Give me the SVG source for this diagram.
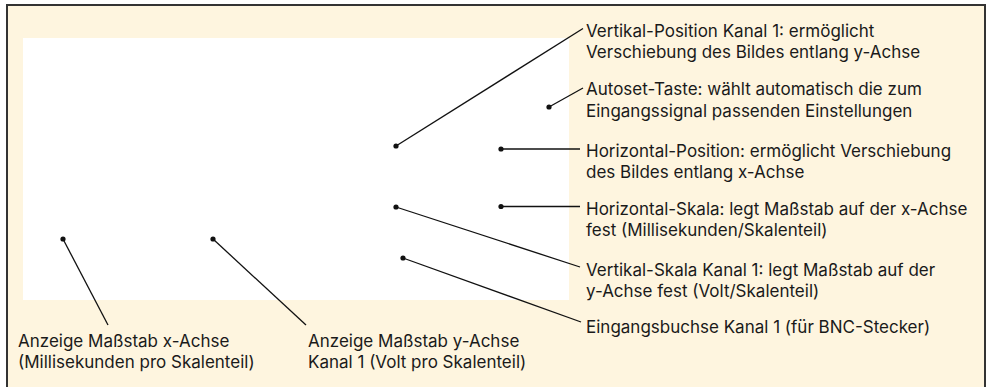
<svg xmlns="http://www.w3.org/2000/svg" width="990" height="387" viewBox="0 0 990 387">
<style>
.t{font-family:Inter,"Noto Sans","Liberation Sans",sans-serif;font-size:17px;fill:#1a1a1a}
.ln{stroke:#111;stroke-width:1.3;fill:none}
.dot{fill:#111}
</style>
<rect x="0" y="0" width="990" height="387" fill="#ffffff"/>
<rect id="frame" x="7" y="5" width="978" height="400" fill="#fef5df" stroke="#333" stroke-width="2"/>
<rect id="picture" x="23" y="38" width="546" height="262" fill="#ffffff"/>
<g id="connectors">
<line class="ln" x1="396" y1="146" x2="583" y2="28.5"/>
<line class="ln" x1="549" y1="107" x2="583" y2="88"/>
<line class="ln" x1="501" y1="149" x2="580" y2="149"/>
<line class="ln" x1="501" y1="206.5" x2="580" y2="206.5"/>
<line class="ln" x1="396" y1="207" x2="580" y2="267"/>
<line class="ln" x1="403" y1="258" x2="581" y2="322"/>
<line class="ln" x1="63" y1="239" x2="108" y2="325"/>
<line class="ln" x1="213" y1="239" x2="306" y2="325"/>
<circle class="dot" cx="396" cy="146" r="2.6"/>
<circle class="dot" cx="549" cy="107" r="2.6"/>
<circle class="dot" cx="501" cy="149" r="2.6"/>
<circle class="dot" cx="501" cy="206.5" r="2.6"/>
<circle class="dot" cx="396" cy="207" r="2.6"/>
<circle class="dot" cx="403" cy="258" r="2.6"/>
<circle class="dot" cx="63" cy="239" r="2.6"/>
<circle class="dot" cx="213" cy="239" r="2.6"/>
</g>
<g id="label-vpos"><text class="t" x="586" y="36.5">Vertikal-Position Kanal 1: ermöglicht</text><text class="t" x="586" y="57.5">Verschiebung des Bildes entlang y-Achse</text></g>
<g id="label-autoset"><text class="t" x="586" y="95">Autoset-Taste: wählt automatisch die zum</text><text class="t" x="586" y="116.5">Eingangssignal passenden Einstellungen</text></g>
<g id="label-hpos"><text class="t" x="586" y="156.5">Horizontal-Position: ermöglicht Verschiebung</text><text class="t" x="586" y="177.5">des Bildes entlang x-Achse</text></g>
<g id="label-hskala"><text class="t" x="586" y="215">Horizontal-Skala: legt Maßstab auf der x-Achse</text><text class="t" x="586" y="236">fest (Millisekunden/Skalenteil)</text></g>
<g id="label-vskala"><text class="t" x="586" y="276">Vertikal-Skala Kanal 1: legt Maßstab auf der</text><text class="t" x="586" y="297">y-Achse fest (Volt/Skalenteil)</text></g>
<g id="label-eingang"><text class="t" x="586" y="333">Eingangsbuchse Kanal 1 (für BNC-Stecker)</text></g>
<g id="label-anzx"><text class="t" x="18" y="346.5">Anzeige Maßstab x-Achse</text><text class="t" x="18" y="367.5">(Millisekunden pro Skalenteil)</text></g>
<g id="label-anzy"><text class="t" x="308" y="346.5">Anzeige Maßstab y-Achse</text><text class="t" x="308" y="367.5">Kanal 1 (Volt pro Skalenteil)</text></g>
</svg>
